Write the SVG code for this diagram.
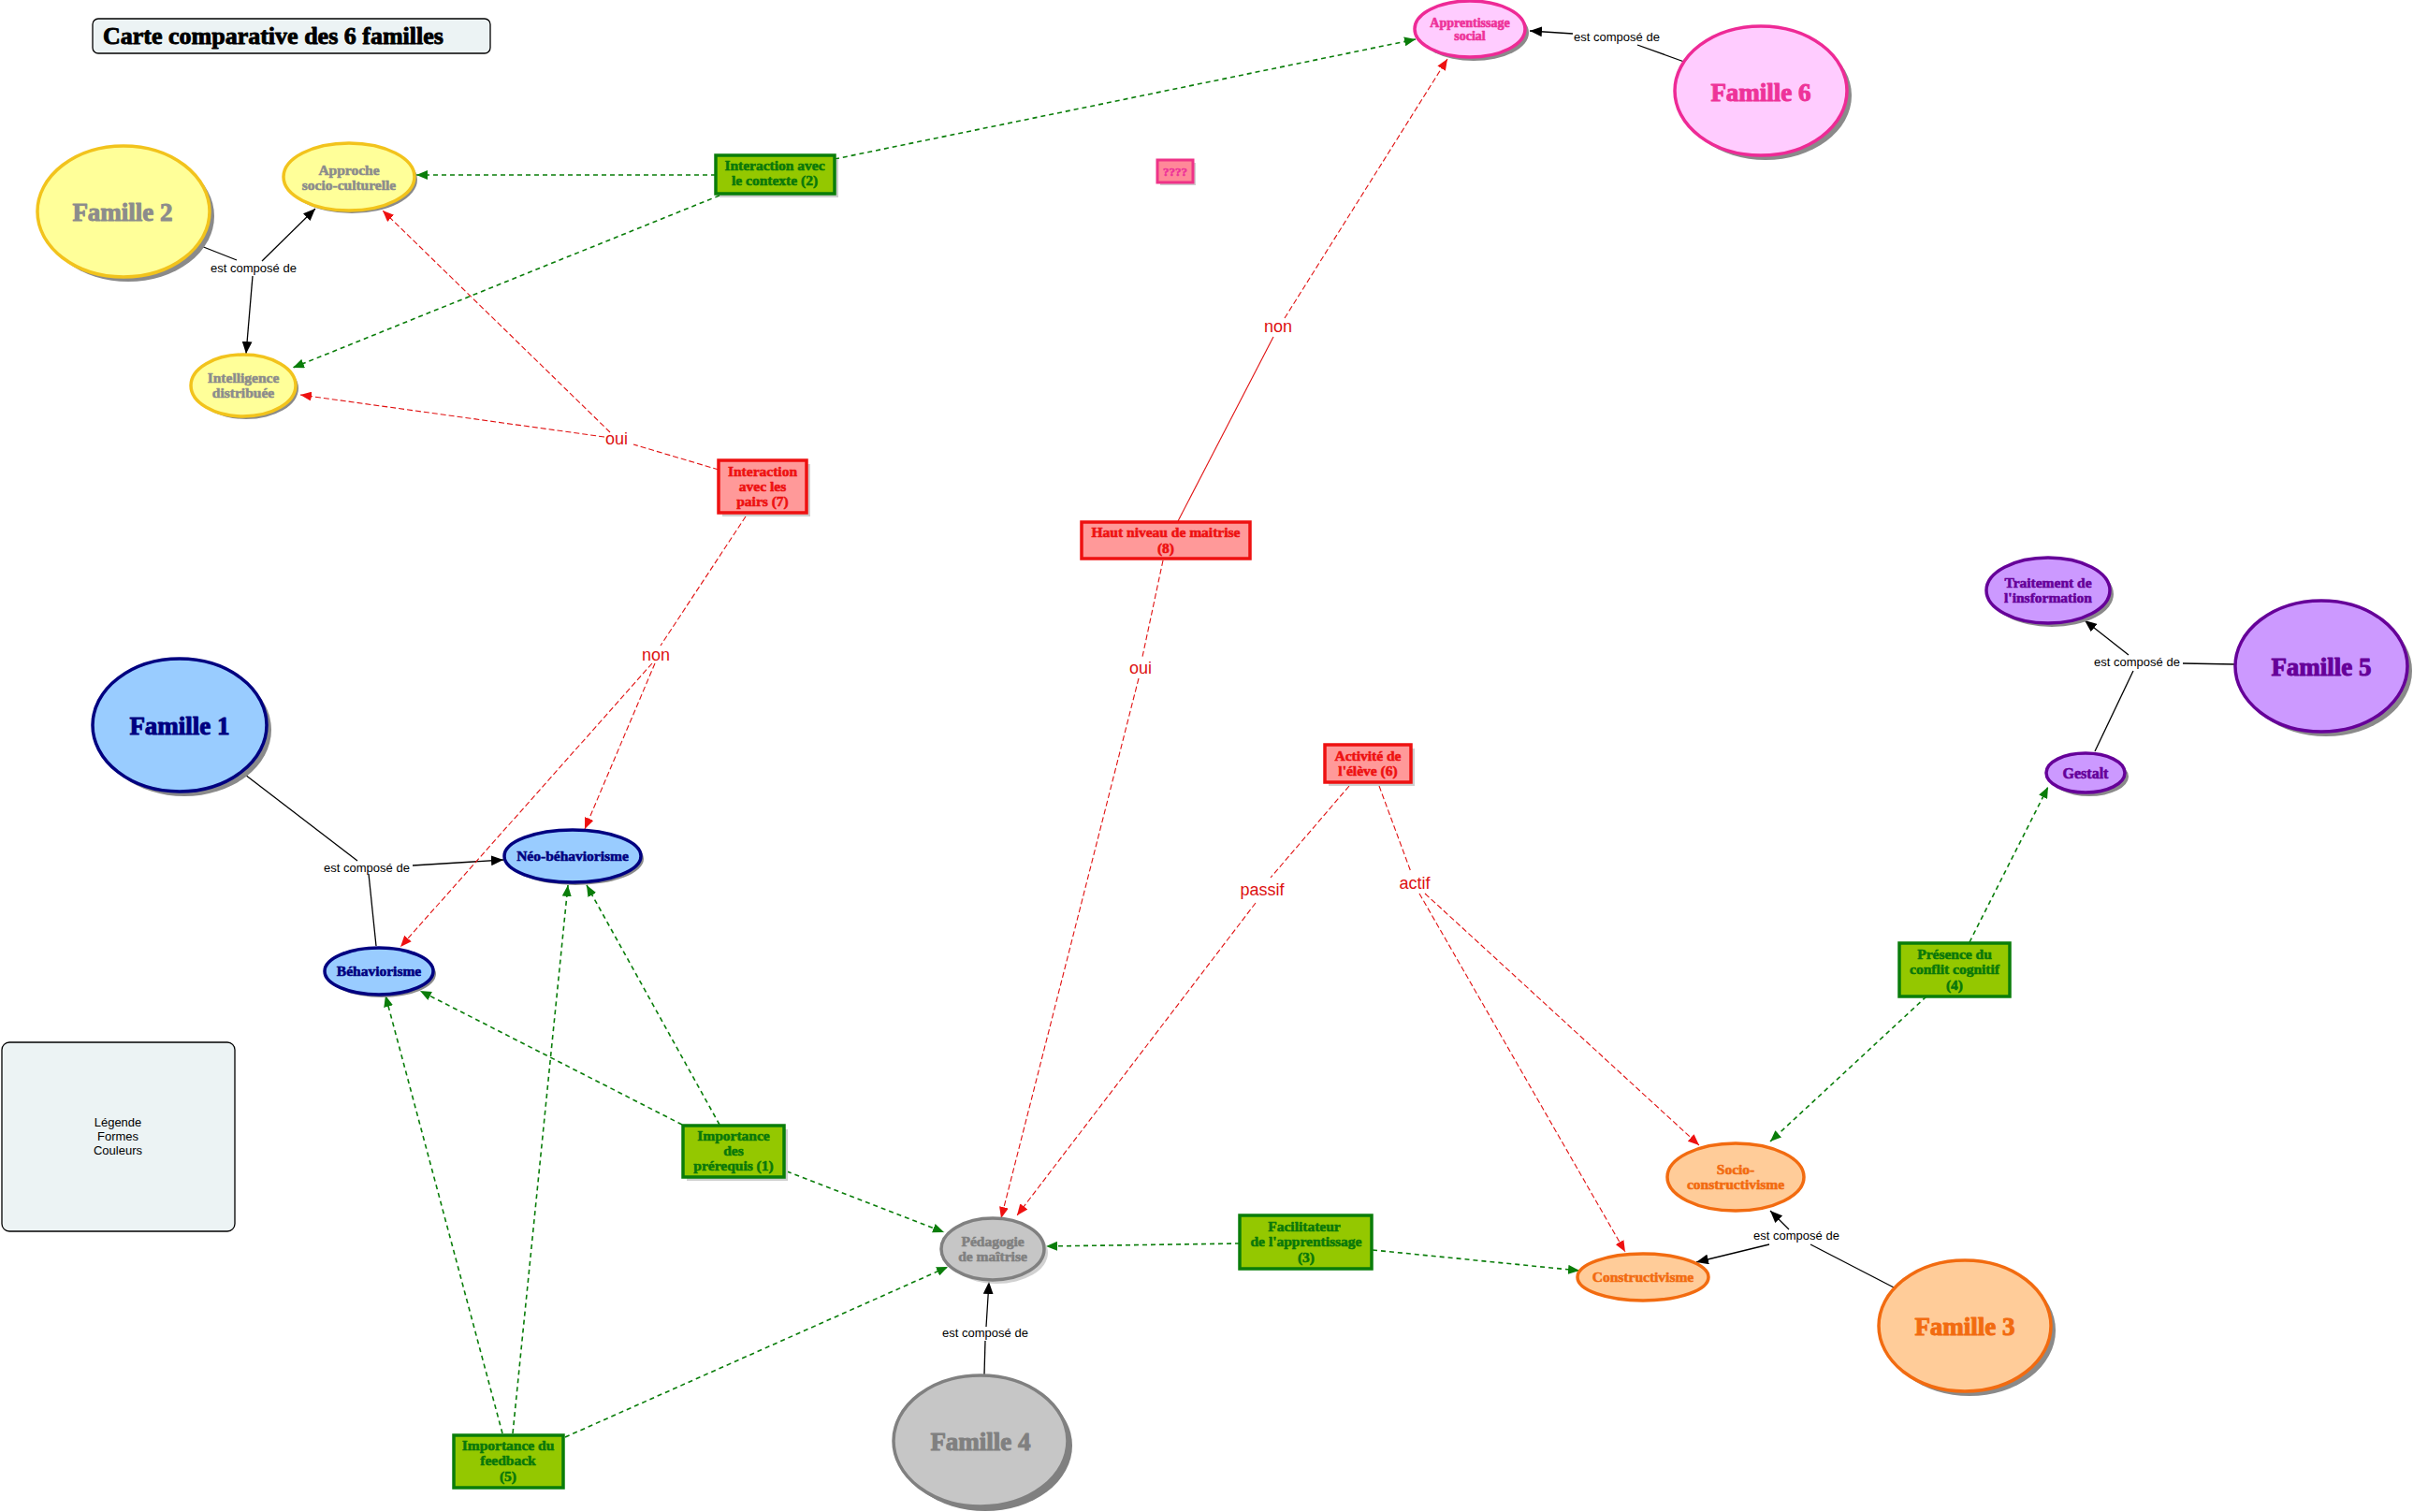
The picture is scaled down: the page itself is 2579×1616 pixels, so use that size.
<svg xmlns="http://www.w3.org/2000/svg" width="2579" height="1616" viewBox="0 0 2579 1616">
<style>
.nt{font-family:"Liberation Serif","DejaVu Serif",serif;font-weight:bold;text-anchor:middle;stroke-width:0.6;stroke-linejoin:round}
.big{font-size:27px;stroke-width:1}
.sm{font-size:15.5px}
.lbl{font-family:"Liberation Sans","DejaVu Sans",sans-serif;font-size:13px;text-anchor:middle;fill:#000}
.rl{font-family:"Liberation Sans","DejaVu Sans",sans-serif;font-size:18px;text-anchor:middle;fill:#dd1111}
.sh{fill:#8a8a8a}
.bsh{fill:#cfcfcf}
.blk{stroke:#000;stroke-width:1.3;fill:none}
.grn{stroke:#0a7d0a;stroke-width:1.6;fill:none;stroke-dasharray:5 4}
.red{stroke:#e01010;stroke-width:1.1;fill:none;stroke-dasharray:6 3}
.redS{stroke:#e01010;stroke-width:1.1;fill:none}
.yel{fill:#ffff99;stroke:#f2c31c;stroke-width:3.5}
.blu{fill:#99ccff;stroke:#000080;stroke-width:3.5}
.pnk{fill:#ffccff;stroke:#ee2a96;stroke-width:3.5}
.pur{fill:#cc99ff;stroke:#660099;stroke-width:3.5}
.org{fill:#ffcc99;stroke:#f26b10;stroke-width:3.5}
.gry{fill:#c6c6c6;stroke:#808080;stroke-width:3.5}
.gbox{fill:#94c800;stroke:#0a7d0a;stroke-width:3.5}
.rbox{fill:#ff9999;stroke:#ee1111;stroke-width:3.5}
.tY{fill:#8c8c8c;stroke:#8c8c8c}.tB{fill:#000080;stroke:#000080}.tP{fill:#ee3399;stroke:#ee3399}.tV{fill:#660099;stroke:#660099}.tO{fill:#f26b10;stroke:#f26b10}.tG{fill:#808080;stroke:#808080}.tGr{fill:#0a780a;stroke:#0a780a}.tR{fill:#ee1111;stroke:#ee1111}
</style>
<defs>
<marker id="aG" viewBox="0 0 12 10" refX="12" refY="5" markerWidth="12" markerHeight="10" markerUnits="userSpaceOnUse" orient="auto"><path d="M0,0 L12,5 L0,10 z" fill="#0a7d0a"/></marker>
<marker id="aR" viewBox="0 0 12 10" refX="12" refY="5" markerWidth="12" markerHeight="10" markerUnits="userSpaceOnUse" orient="auto"><path d="M0,0 L12,5 L0,10 z" fill="#ee1111"/></marker>
<marker id="aK" viewBox="0 0 12 10" refX="12" refY="5" markerWidth="13" markerHeight="11" markerUnits="userSpaceOnUse" orient="auto"><path d="M0,0 L12,5 L0,10 z" fill="#000"/></marker>
</defs>
<rect width="2579" height="1616" fill="#fff"/>

<g id="connectors">
<path class="blk" d="M215,263 L253,278"/>
<path class="blk" d="M280,279 L337,223" marker-end="url(#aK)"/>
<path class="blk" d="M270,295 L263,378" marker-end="url(#aK)"/>
<path class="blk" d="M262,828 L382,920"/>
<path class="blk" d="M441,925 L538,919" marker-end="url(#aK)"/>
<path class="blk" d="M394,934 L402,1011"/>
<path class="blk" d="M1800,66 L1750,48"/>
<path class="blk" d="M1681,36 L1635,33" marker-end="url(#aK)"/>
<path class="blk" d="M2389,710 L2333,709"/>
<path class="blk" d="M2275,700 L2228,663" marker-end="url(#aK)"/>
<path class="blk" d="M2280,717 L2239,803"/>
<path class="blk" d="M2024,1376 L1935,1330"/>
<path class="blk" d="M1912,1314 L1892,1294" marker-end="url(#aK)"/>
<path class="blk" d="M1891,1330 L1813,1349" marker-end="url(#aK)"/>
<path class="blk" d="M1052,1469 L1053,1433"/>
<path class="blk" d="M1054,1418 L1057,1370" marker-end="url(#aK)"/>
<path class="grn" d="M765,187 L445,187" marker-end="url(#aG)"/>
<path class="grn" d="M769,209 L313,393" marker-end="url(#aG)"/>
<path class="grn" d="M892,170 L1513,42" marker-end="url(#aG)"/>
<path class="grn" d="M729,1202 L449,1059" marker-end="url(#aG)"/>
<path class="grn" d="M769,1202 L627,946" marker-end="url(#aG)"/>
<path class="grn" d="M841,1252 L1009,1317" marker-end="url(#aG)"/>
<path class="grn" d="M537,1532 L412,1064" marker-end="url(#aG)"/>
<path class="grn" d="M548,1532 L607,946" marker-end="url(#aG)"/>
<path class="grn" d="M604,1536 L1013,1354" marker-end="url(#aG)"/>
<path class="grn" d="M1325,1329 L1118,1332" marker-end="url(#aG)"/>
<path class="grn" d="M1467,1336 L1688,1358" marker-end="url(#aG)"/>
<path class="grn" d="M2105,1007 L2189,841" marker-end="url(#aG)"/>
<path class="grn" d="M2059,1065 L1892,1220" marker-end="url(#aG)"/>
<path class="red" d="M768,502 L677,475"/>
<path class="red" d="M646,467 L321,422" marker-end="url(#aR)"/>
<path class="red" d="M652,462 L409,225" marker-end="url(#aR)"/>
<path class="red" d="M797,552 L706,690"/>
<path class="red" d="M700,709 L625,886" marker-end="url(#aR)"/>
<path class="red" d="M697,709 L428,1012" marker-end="url(#aR)"/>
<path class="redS" d="M1259,557 L1361,360"/>
<path class="red" d="M1373,340 L1547,63" marker-end="url(#aR)"/>
<path class="red" d="M1243,599 L1221,702"/>
<path class="red" d="M1217,725 L1070,1302" marker-end="url(#aR)"/>
<path class="red" d="M1442,840 L1358,938"/>
<path class="red" d="M1342,965 L1087,1299" marker-end="url(#aR)"/>
<path class="red" d="M1474,840 L1508,932"/>
<path class="red" d="M1517,955 L1737,1338" marker-end="url(#aR)"/>
<path class="red" d="M1523,955 L1816,1224" marker-end="url(#aR)"/>
<text class="lbl" x="271" y="291">est composé de</text>
<text class="lbl" x="392" y="932">est composé de</text>
<text class="lbl" x="1728" y="44">est composé de</text>
<text class="lbl" x="2284" y="712">est composé de</text>
<text class="lbl" x="1920" y="1325">est composé de</text>
<text class="lbl" x="1053" y="1429">est composé de</text>
<text class="rl" x="659" y="475">oui</text>
<text class="rl" x="701" y="706">non</text>
<text class="rl" x="1366" y="355">non</text>
<text class="rl" x="1219" y="720">oui</text>
<text class="rl" x="1349" y="957">passif</text>
<text class="rl" x="1512" y="950">actif</text>
</g>

<g id="title">
<rect x="99" y="20" width="425" height="37" rx="6" fill="#ecf3f4" stroke="#000" stroke-width="1.3"/>
<text x="110" y="47" font-family="Liberation Serif,serif" font-weight="bold" font-size="26" fill="#000" stroke="#000" stroke-width="0.9" stroke-linejoin="round">Carte comparative des 6 familles</text>
</g>

<g id="legende">
<rect x="2" y="1114" width="249" height="202" rx="8" fill="#ecf3f4" stroke="#000" stroke-width="1.3"/>
<text class="lbl" x="126" y="1204">Légende</text>
<text class="lbl" x="126" y="1219">Formes</text>
<text class="lbl" x="126" y="1234">Couleurs</text>
</g>

<g id="famille2">
<ellipse class="sh" cx="137" cy="231" rx="92" ry="70"/>
<ellipse class="yel" cx="132" cy="226" rx="92" ry="70"/>
<text class="nt big tY" x="131" y="236">Famille 2</text>
</g>
<g id="approche">
<ellipse class="sh" cx="376" cy="192" rx="70" ry="36"/>
<ellipse class="yel" cx="373" cy="189" rx="70" ry="36"/>
<text class="nt sm tY" x="373" y="187">Approche</text>
<text class="nt sm tY" x="373" y="203">socio-culturelle</text>
</g>
<g id="intelligence">
<ellipse class="sh" cx="263" cy="415" rx="56" ry="33"/>
<ellipse class="yel" cx="260" cy="412" rx="56" ry="33"/>
<text class="nt sm tY" x="260" y="409">Intelligence</text>
<text class="nt sm tY" x="260" y="425">distribuée</text>
</g>

<g id="famille1">
<ellipse class="sh" cx="197" cy="780" rx="93" ry="71"/>
<ellipse class="blu" cx="192" cy="775" rx="93" ry="71"/>
<text class="nt big tB" x="192" y="785">Famille 1</text>
</g>
<g id="neo">
<ellipse class="sh" cx="615" cy="918" rx="73" ry="28"/>
<ellipse class="blu" cx="612" cy="915" rx="73" ry="28"/>
<text class="nt sm tB" x="612" y="920">Néo-béhaviorisme</text>
</g>
<g id="behaviorisme">
<ellipse class="sh" cx="408" cy="1041" rx="58" ry="25"/>
<ellipse class="blu" cx="405" cy="1038" rx="58" ry="25"/>
<text class="nt sm tB" x="405" y="1043">Béhaviorisme</text>
</g>

<g id="apprentissage">
<ellipse class="sh" cx="1575" cy="35" rx="59" ry="30"/>
<ellipse class="pnk" cx="1571" cy="31" rx="59" ry="30"/>
<text class="nt tP" font-size="14" x="1571" y="29">Apprentissage</text>
<text class="nt tP" font-size="14" x="1571" y="43">social</text>
</g>
<g id="famille6">
<ellipse class="sh" cx="1887" cy="102" rx="92" ry="69"/>
<ellipse class="pnk" cx="1882" cy="97" rx="92" ry="69" stroke="#dd1199"/>
<text class="nt big tP" x="1882" y="108">Famille 6</text>
</g>
<g id="question">
<rect class="bsh" x="1240" y="174" width="38" height="24"/>
<rect x="1237" y="171" width="38" height="24" fill="#ff8899" stroke="#ee3388" stroke-width="3"/>
<text class="nt tP" font-size="13" x="1256" y="188">????</text>
</g>

<g id="interContexte">
<rect class="bsh" x="769" y="170" width="127" height="41"/>
<rect class="gbox" x="765" y="166" width="127" height="41"/>
<text class="nt sm tGr" x="828" y="182">Interaction avec</text>
<text class="nt sm tGr" x="828" y="198">le contexte (2)</text>
</g>
<g id="interPairs">
<rect class="bsh" x="772" y="496" width="94" height="56"/>
<rect class="rbox" x="768" y="492" width="94" height="56"/>
<text class="nt sm tR" x="815" y="509">Interaction</text>
<text class="nt sm tR" x="815" y="525">avec les</text>
<text class="nt sm tR" x="815" y="541">pairs (7)</text>
</g>
<g id="hautNiveau">
<rect class="rbox" x="1156" y="558" width="180" height="39"/>
<text class="nt sm tR" x="1246" y="574">Haut niveau de maitrise</text>
<text class="nt sm tR" x="1246" y="591">(8)</text>
</g>
<g id="activite">
<rect class="bsh" x="1420" y="800" width="92" height="40"/>
<rect class="rbox" x="1416" y="796" width="92" height="40"/>
<text class="nt sm tR" x="1462" y="813">Activité de</text>
<text class="nt sm tR" x="1462" y="829">l'élève (6)</text>
</g>

<g id="traitement">
<ellipse class="sh" cx="2193" cy="635" rx="66" ry="35"/>
<ellipse class="pur" cx="2189" cy="631" rx="66" ry="35"/>
<text class="nt sm tV" x="2189" y="628">Traitement de</text>
<text class="nt sm tV" x="2189" y="644">l'insformation</text>
</g>
<g id="famille5">
<ellipse class="sh" cx="2486" cy="717" rx="92" ry="70"/>
<ellipse class="pur" cx="2481" cy="712" rx="92" ry="70"/>
<text class="nt big tV" x="2481" y="722">Famille 5</text>
</g>
<g id="gestalt">
<ellipse class="sh" cx="2233" cy="830" rx="42" ry="21"/>
<ellipse class="pur" cx="2229" cy="826" rx="42" ry="21"/>
<text class="nt tV" font-size="16" x="2229" y="832">Gestalt</text>
</g>
<g id="presence">
<rect class="gbox" x="2030" y="1008" width="118" height="57"/>
<text class="nt sm tGr" x="2089" y="1025">Présence du</text>
<text class="nt sm tGr" x="2089" y="1041">conflit cognitif</text>
<text class="nt sm tGr" x="2089" y="1058">(4)</text>
</g>

<g id="socio">
<ellipse class="org" cx="1855" cy="1258" rx="73" ry="36"/>
<text class="nt sm tO" x="1855" y="1255">Socio-</text>
<text class="nt sm tO" x="1855" y="1271">constructivisme</text>
</g>
<g id="constructivisme">
<ellipse class="org" cx="1756" cy="1365" rx="70" ry="25"/>
<text class="nt sm tO" x="1756" y="1370">Constructivisme</text>
</g>
<g id="famille3">
<ellipse class="sh" cx="2105" cy="1422" rx="92" ry="70"/>
<ellipse class="org" cx="2100" cy="1417" rx="92" ry="70"/>
<text class="nt big tO" x="2100" y="1427">Famille 3</text>
</g>

<g id="pedagogie">
<ellipse fill="#c6c6c6" cx="1065" cy="1339" rx="55" ry="33" opacity="0.8"/>
<ellipse class="gry" cx="1061" cy="1335" rx="55" ry="33"/>
<text class="nt sm tG" x="1061" y="1332">Pédagogie</text>
<text class="nt sm tG" x="1061" y="1348">de maîtrise</text>
</g>
<g id="famille4">
<ellipse fill="#808080" cx="1053" cy="1545" rx="93" ry="70"/>
<ellipse class="gry" cx="1048" cy="1540" rx="93" ry="70"/>
<text class="nt big tG" x="1048" y="1550">Famille 4</text>
</g>
<g id="facilitateur">
<rect class="gbox" x="1325" y="1299" width="141" height="57"/>
<text class="nt sm tGr" x="1394" y="1316">Facilitateur</text>
<text class="nt sm tGr" x="1396" y="1332">de l'apprentissage</text>
<text class="nt sm tGr" x="1396" y="1349">(3)</text>
</g>
<g id="prerequis">
<rect class="bsh" x="734" y="1207" width="108" height="55"/>
<rect class="gbox" x="730" y="1203" width="108" height="55"/>
<text class="nt sm tGr" x="784" y="1219">Importance</text>
<text class="nt sm tGr" x="784" y="1235">des</text>
<text class="nt sm tGr" x="784" y="1251">prérequis (1)</text>
</g>
<g id="feedback">
<rect class="gbox" x="485" y="1534" width="117" height="56"/>
<text class="nt sm tGr" x="543" y="1550">Importance du</text>
<text class="nt sm tGr" x="543" y="1566">feedback</text>
<text class="nt sm tGr" x="543" y="1583">(5)</text>
</g>
</svg>
